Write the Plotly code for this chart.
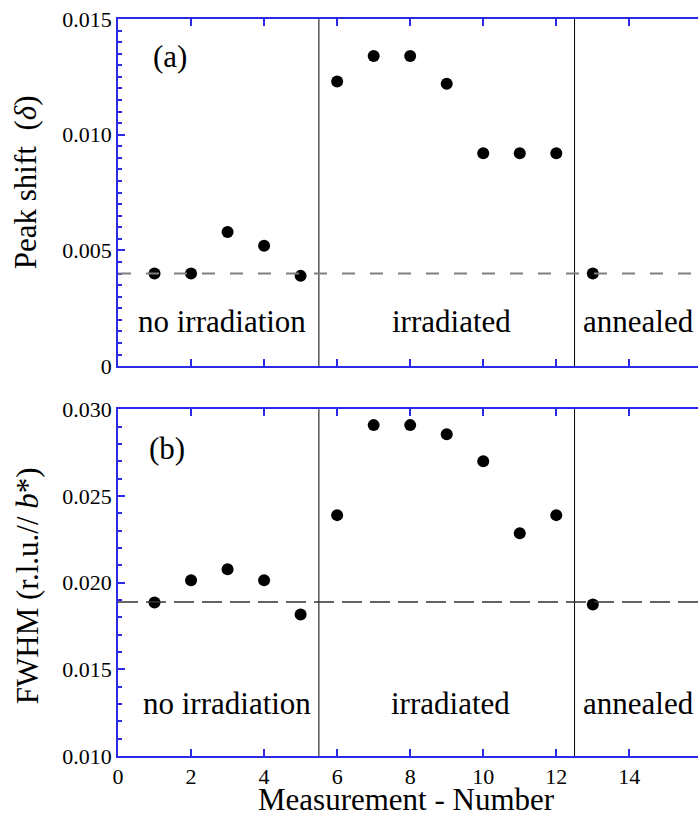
import plotly.graph_objects as go

measurement = list(range(1, 14))
peak_shift = [0.0040, 0.0040, 0.0058, 0.0052, 0.0039, 0.0123, 0.0134, 0.0134,
              0.0122, 0.0092, 0.0092, 0.0092, 0.0040]
fwhm = [0.01885, 0.02014, 0.02077, 0.02014, 0.01816, 0.02389, 0.02908, 0.02908,
        0.02856, 0.0270, 0.02285, 0.02389, 0.01873]
peak_ref = 0.0040
fwhm_ref = 0.01888
boundaries = [5.5, 12.5]
region_names = ["no irradiation", "irradiated", "annealed"]
region_x_top = [2.84, 9.14, 14.24]
region_x_bot = [2.98, 9.10, 14.24]
peak_ticks = [0, 0.005, 0.010, 0.015]
peak_ticktext = ["0", "0.005", "0.010", "0.015"]
fwhm_ticks = [0.010, 0.015, 0.020, 0.025, 0.030]
fwhm_ticktext = ["0.010", "0.015", "0.020", "0.025", "0.030"]
x_ticks = [0, 2, 4, 6, 8, 10, 12, 14, 16]

SERIF = "Liberation Serif, Times New Roman, serif"
AX = "#2a2ae8"

fig = go.Figure()
fig.add_trace(go.Scatter(x=measurement, y=peak_shift, mode="markers",
                         marker=dict(color="black", size=12), xaxis="x", yaxis="y",
                         showlegend=False))
fig.add_trace(go.Scatter(x=measurement, y=fwhm, mode="markers",
                         marker=dict(color="black", size=12), xaxis="x2", yaxis="y2",
                         showlegend=False))

xcommon = dict(range=[0, 15.88], tickvals=x_ticks, ticks="inside", ticklen=7,
               tickcolor=AX, tickwidth=1.5, showline=True, linecolor=AX, linewidth=1.5,
               mirror="ticks", showgrid=False, zeroline=False,
               tickfont=dict(family=SERIF, size=22, color="black"))
fig.update_layout(
    width=698, height=817,
    margin=dict(l=118, r=0, t=19, b=61),
    plot_bgcolor="white", paper_bgcolor="white",
    xaxis=dict(**xcommon, anchor="y", showticklabels=False),
    xaxis2=dict(**xcommon, anchor="y2", matches="x"),
    yaxis=dict(domain=[0.529, 1.0], range=[0, 0.015], tickvals=peak_ticks,
               ticktext=peak_ticktext, ticks="inside", ticklen=7, tickcolor=AX,
               tickwidth=1.5, showline=True, linecolor=AX, linewidth=1.5, mirror=False,
               showgrid=False, zeroline=False, anchor="x",
               minor=dict(dtick=0.0005, tick0=0, ticks="inside", ticklen=4,
                          tickcolor=AX, tickwidth=1.5, showgrid=False),
               tickfont=dict(family=SERIF, size=22, color="black")),
    yaxis2=dict(domain=[0.0, 0.4706], range=[0.010, 0.030], tickvals=fwhm_ticks,
                ticktext=fwhm_ticktext, ticks="inside", ticklen=7, tickcolor=AX,
                tickwidth=1.5, showline=True, linecolor=AX, linewidth=1.5, mirror=False,
                showgrid=False, zeroline=False, anchor="x2",
                minor=dict(dtick=0.001, tick0=0.010, ticks="inside", ticklen=4,
                           tickcolor=AX, tickwidth=1.5, showgrid=False),
                tickfont=dict(family=SERIF, size=22, color="black")),
)

# boundary lines
for b in boundaries:
    fig.add_shape(type="line", xref="x", yref="y domain", x0=b, x1=b, y0=0, y1=1,
                  line=dict(color="black", width=1))
    fig.add_shape(type="line", xref="x2", yref="y2 domain", x0=b, x1=b, y0=0, y1=1,
                  line=dict(color="black", width=1))

# reference dashed lines
fig.add_shape(type="line", xref="x domain", yref="y", x0=0, x1=1, y0=peak_ref, y1=peak_ref,
              line=dict(color="#808080", width=2, dash="13px,15px"))
fig.add_shape(type="line", xref="x2 domain", yref="y2", x0=0, x1=1, y0=fwhm_ref, y1=fwhm_ref,
              line=dict(color="#333333", width=1.5, dash="20px,8px"))

big = dict(family=SERIF, size=31, color="black")
for name, xt, xb in zip(region_names, region_x_top, region_x_bot):
    fig.add_annotation(x=xt, y=0.00195, xref="x", yref="y", text=name, showarrow=False,
                       font=big, xanchor="center", yanchor="middle")
    fig.add_annotation(x=xb, y=0.01304, xref="x2", yref="y2", text=name, showarrow=False,
                       font=big, xanchor="center", yanchor="middle")

fig.add_annotation(x=1.42, y=0.01336, xref="x", yref="y", text="(a)", showarrow=False,
                   font=big, xanchor="center", yanchor="middle")
fig.add_annotation(x=1.33, y=0.02772, xref="x2", yref="y2", text="(b)", showarrow=False,
                   font=big, xanchor="center", yanchor="middle")

fig.add_annotation(x=-0.16, y=0.7788, xref="paper", yref="paper",
                   text="Peak shift\u00a0 (<i>δ</i>)", textangle=-90, showarrow=False,
                   font=big, xanchor="center", yanchor="middle")
fig.add_annotation(x=-0.157, y=0.2317, xref="paper", yref="paper",
                   text="FWHM (r.l.u.// <i>b</i>*)", textangle=-90, showarrow=False,
                   font=big, xanchor="center", yanchor="middle")
fig.add_annotation(x=0.4975, y=-0.0588, xref="paper", yref="paper",
                   text="Measurement - Number", showarrow=False,
                   font=big, xanchor="center", yanchor="middle")

fig.write_html("out.html")
